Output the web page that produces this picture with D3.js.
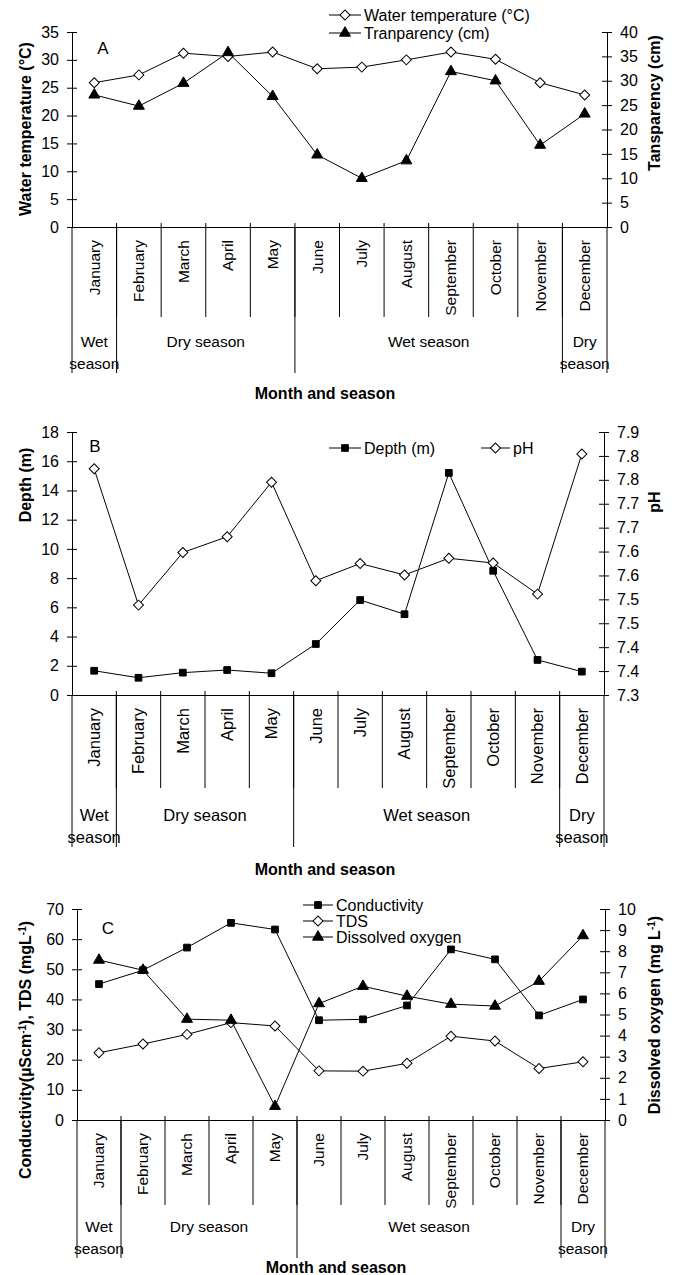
<!DOCTYPE html>
<html>
<head>
<meta charset="utf-8">
<script src="https://cdn.jsdelivr.net/npm/d3@7"></script>
<style>
    body { margin: 0; background: #fff; }
    svg { display: block; font-family: "Liberation Sans", Arial, sans-serif; }
    .axis text { font-size: 16px; fill: #000; }
    .axis path, .axis line { stroke: #000; stroke-width: 1; }
    .title { font-size: 16px; font-weight: bold; }
</style>
</head>
<body>
<script>
const months = ["January", "February", "March", "April", "May", "June",
    "July", "August", "September", "October", "November", "December"];
const seasonLabels = [["Wet", "season"], ["Dry season"], ["Wet season"], ["Dry", "season"]];
const seasonStart = [0, 1, 5, 11];
const seasonEnd = [1, 5, 11, 12];

// panel A
const waterTemp = [25.9, 27.3, 31.2, 30.6, 31.4, 28.4, 28.7, 30.0, 31.4, 30.1, 25.9, 23.7];
const transparency = [27.1, 24.8, 29.5, 35.8, 26.8, 14.8, 10.0, 13.6, 31.9, 30.0, 16.8, 23.2];
const tempTicks = [0, 5, 10, 15, 20, 25, 30, 35];
const transTicks = [0, 5, 10, 15, 20, 25, 30, 35, 40];

// panel B
const depth = [1.66, 1.18, 1.53, 1.71, 1.49, 3.49, 6.5, 5.53, 15.2, 8.5, 2.4, 1.6];
const pH = [7.773, 7.488, 7.598, 7.631, 7.745, 7.539, 7.575, 7.551, 7.586, 7.576, 7.511, 7.804];
const depthTicks = [0, 2, 4, 6, 8, 10, 12, 14, 16, 18];
const phTicks = [7.3, 7.35, 7.4, 7.45, 7.5, 7.55, 7.6, 7.65, 7.7, 7.75, 7.8, 7.85];
const phTickLabels = ["7.3", "7.4", "7.4", "7.5", "7.5", "7.6", "7.6", "7.7", "7.7", "7.8", "7.8", "7.9"];

// panel C
const conductivity = [45.1, 49.7, 57.2, 65.4, 63.2, 33.1, 33.4, 38.0, 56.6, 53.3, 34.7, 40.0];
const tds = [22.3, 25.2, 28.4, 32.3, 31.2, 16.3, 16.2, 18.8, 27.8, 26.2, 17.1, 19.3];
const dissolvedOxygen = [7.58, 7.1, 4.78, 4.73, 0.65, 5.52, 6.34, 5.87, 5.49, 5.4, 6.58, 8.74];
const condTicks = [0, 10, 20, 30, 40, 50, 60, 70];
const doTicks = [0, 1, 2, 3, 4, 5, 6, 7, 8, 9, 10];

const width = 675;
const height = 1275;

const svg = d3.select("body")
    .append("svg")
    .attr("width", width)
    .attr("height", height);

const marker = {
    diamond: d3.symbol().type(d3.symbolSquare).size(50),
    triangle: d3.symbol().type(d3.symbolTriangle).size(52),
    square: d3.symbol().type(d3.symbolSquare).size(45)
};

function drawMarker(g, type, x, y) {
    const p = g.append("path")
        .attr("d", marker[type]())
        .attr("stroke", "#000")
        .attr("stroke-width", 1)
        .attr("fill", type === "diamond" ? "#fff" : "#000");
    if (type === "diamond") p.attr("transform", `translate(${x},${y}) rotate(45)`);
    else p.attr("transform", `translate(${x},${y})`);
}

function drawPanel(p) {
    const g = svg.append("g");
    const x = d3.scaleBand().domain(months).range([p.left, p.right]);
    const yL = d3.scaleLinear().domain(p.leftDomain).range([p.bottom, p.top]);
    const yR = d3.scaleLinear().domain(p.rightDomain).range([p.bottom, p.top]);
    const bw = x.bandwidth();

    // y axes, ticks cross the axis line
    const leftAxis = g.append("g").attr("class", "axis")
        .attr("transform", `translate(${p.left},0)`)
        .call(d3.axisLeft(yL).tickValues(p.leftTicks).tickSize(5).tickPadding(8).tickSizeOuter(0));
    leftAxis.selectAll(".tick line").attr("x1", 5);

    const rightAxis = g.append("g").attr("class", "axis")
        .attr("transform", `translate(${p.right},0)`)
        .call(d3.axisRight(yR).tickValues(p.rightTicks).tickSize(5).tickPadding(8).tickSizeOuter(0)
            .tickFormat((d, i) => p.rightLabels ? p.rightLabels[i] : d));
    rightAxis.selectAll(".tick line").attr("x1", -5);

    // x axis, month names turned
    const xAxis = g.append("g").attr("class", "axis")
        .attr("transform", `translate(0,${p.bottom})`)
        .call(d3.axisBottom(x).tickSize(0).tickSizeOuter(0));
    xAxis.selectAll(".tick text")
        .attr("transform", "rotate(-90)")
        .attr("x", -13)
        .attr("y", 0)
        .attr("dy", "0.35em")
        .attr("text-anchor", "end")
        .style("font-size", p.monthFont);

    // month dividers
    d3.range(1, 12).forEach((i) => {
        g.append("line")
            .attr("x1", p.left + i * bw).attr("x2", p.left + i * bw)
            .attr("y1", p.bottom - 4).attr("y2", p.monthEnd)
            .attr("stroke", "#000");
    });
    // season dividers
    [0, 1, 5, 11, 12].forEach((i) => {
        g.append("line")
            .attr("x1", p.left + i * bw).attr("x2", p.left + i * bw)
            .attr("y1", p.bottom).attr("y2", p.seasonEnd)
            .attr("stroke", "#000");
    });
    seasonLabels.forEach((lines, k) => {
        const cx = p.left + (seasonStart[k] + seasonEnd[k]) / 2 * bw;
        lines.forEach((t, j) => {
            g.append("text")
                .attr("x", cx)
                .attr("y", j === 0 ? p.wetY : p.season2Y)
                .attr("dy", "0.35em")
                .attr("text-anchor", "middle")
                .style("font-size", p.monthFont)
                .text(t);
        });
    });

    g.append("text").attr("class", "title")
        .attr("x", p.xTitleX).attr("y", p.xTitleY)
        .attr("dy", "0.35em").attr("text-anchor", "middle")
        .text("Month and season");

    const lt = g.append("text").attr("class", "title")
        .attr("transform", `translate(25,${p.leftTitleY}) rotate(-90)`)
        .attr("dy", "0.35em").attr("text-anchor", "middle");
    p.leftTitle(lt);
    const rt = g.append("text").attr("class", "title")
        .attr("transform", `translate(654,${p.rightTitleY}) rotate(-90)`)
        .attr("dy", "0.35em").attr("text-anchor", "middle");
    p.rightTitle(rt);

    g.append("text")
        .attr("x", p.letterX).attr("y", p.letterY)
        .attr("dy", "0.35em").attr("text-anchor", "middle")
        .style("font-size", "17px")
        .text(p.letter);

    p.series.forEach((s) => {
        const y = s.axis === "left" ? yL : yR;
        const line = d3.line()
            .x((d, i) => x(months[i]) + bw / 2)
            .y((d) => y(d));
        g.append("path")
            .datum(s.values)
            .attr("d", line)
            .attr("fill", "none")
            .attr("stroke", "#000")
            .attr("stroke-width", 1);
        s.values.forEach((v, i) => drawMarker(g, s.marker, x(months[i]) + bw / 2, y(v)));

        // legend
        g.append("line")
            .attr("x1", s.lx).attr("x2", s.lx + s.lw)
            .attr("y1", s.ly).attr("y2", s.ly)
            .attr("stroke", "#000");
        drawMarker(g, s.marker, s.lx + s.lw / 2, s.ly);
        g.append("text")
            .attr("x", s.lx + s.lw + 3).attr("y", s.ly)
            .attr("dy", "0.35em")
            .style("font-size", "16px")
            .text(s.name);
    });
}

function supTitle(parts) {
    return (t) => {
        parts.forEach((part) => {
            if (part.sup) {
                t.append("tspan").attr("baseline-shift", "super").style("font-size", "10px").text(part.sup);
            } else {
                t.append("tspan").text(part.text);
            }
        });
    };
}

drawPanel({
    letter: "A", letterX: 103, letterY: 48,
    left: 72, right: 607, top: 32, bottom: 227,
    monthEnd: 317, seasonEnd: 373, wetY: 342, season2Y: 364,
    xTitleX: 325, xTitleY: 393, monthFont: "15.5px",
    leftDomain: [0, 35], rightDomain: [0, 40],
    leftTicks: tempTicks, rightTicks: transTicks,
    leftTitleY: 129, rightTitleY: 103,
    leftTitle: (t) => t.text("Water temperature (°C)"),
    rightTitle: (t) => t.text("Tansparency (cm)"),
    series: [
        { name: "Water temperature (°C)", values: waterTemp, axis: "left", marker: "diamond", lx: 329, lw: 32, ly: 15 },
        { name: "Tranparency (cm)", values: transparency, axis: "right", marker: "triangle", lx: 329, lw: 32, ly: 33 }
    ]
});

drawPanel({
    letter: "B", letterX: 95, letterY: 446,
    left: 72, right: 604, top: 432, bottom: 695,
    monthEnd: 788, seasonEnd: 847, wetY: 815, season2Y: 837,
    xTitleX: 325, xTitleY: 869, monthFont: "16.5px",
    leftDomain: [0, 18], rightDomain: [7.3, 7.85],
    leftTicks: depthTicks, rightTicks: phTicks, rightLabels: phTickLabels,
    leftTitleY: 485, rightTitleY: 502,
    leftTitle: (t) => t.text("Depth (m)"),
    rightTitle: (t) => t.text("pH"),
    series: [
        { name: "Depth (m)", values: depth, axis: "left", marker: "square", lx: 329, lw: 32, ly: 448 },
        { name: "pH", values: pH, axis: "right", marker: "diamond", lx: 481, lw: 29, ly: 448 }
    ]
});

drawPanel({
    letter: "C", letterX: 108, letterY: 928,
    left: 77, right: 605, top: 909, bottom: 1120,
    monthEnd: 1205, seasonEnd: 1258, wetY: 1227, season2Y: 1249,
    xTitleX: 336, xTitleY: 1267, monthFont: "15.5px",
    leftDomain: [0, 70], rightDomain: [0, 10],
    leftTicks: condTicks, rightTicks: doTicks,
    leftTitleY: 1050, rightTitleY: 1015,
    leftTitle: supTitle([{ text: "Conductivity(µScm" }, { sup: "-1" }, { text: "), TDS (mgL" }, { sup: "-1" }, { text: ")" }]),
    rightTitle: supTitle([{ text: "Dissolved oxygen (mg L" }, { sup: "-1" }, { text: ")" }]),
    series: [
        { name: "Conductivity", values: conductivity, axis: "left", marker: "square", lx: 303, lw: 30, ly: 905 },
        { name: "TDS", values: tds, axis: "left", marker: "diamond", lx: 303, lw: 30, ly: 921 },
        { name: "Dissolved oxygen", values: dissolvedOxygen, axis: "right", marker: "triangle", lx: 303, lw: 30, ly: 937 }
    ]
});
</script>
</body>
</html>
